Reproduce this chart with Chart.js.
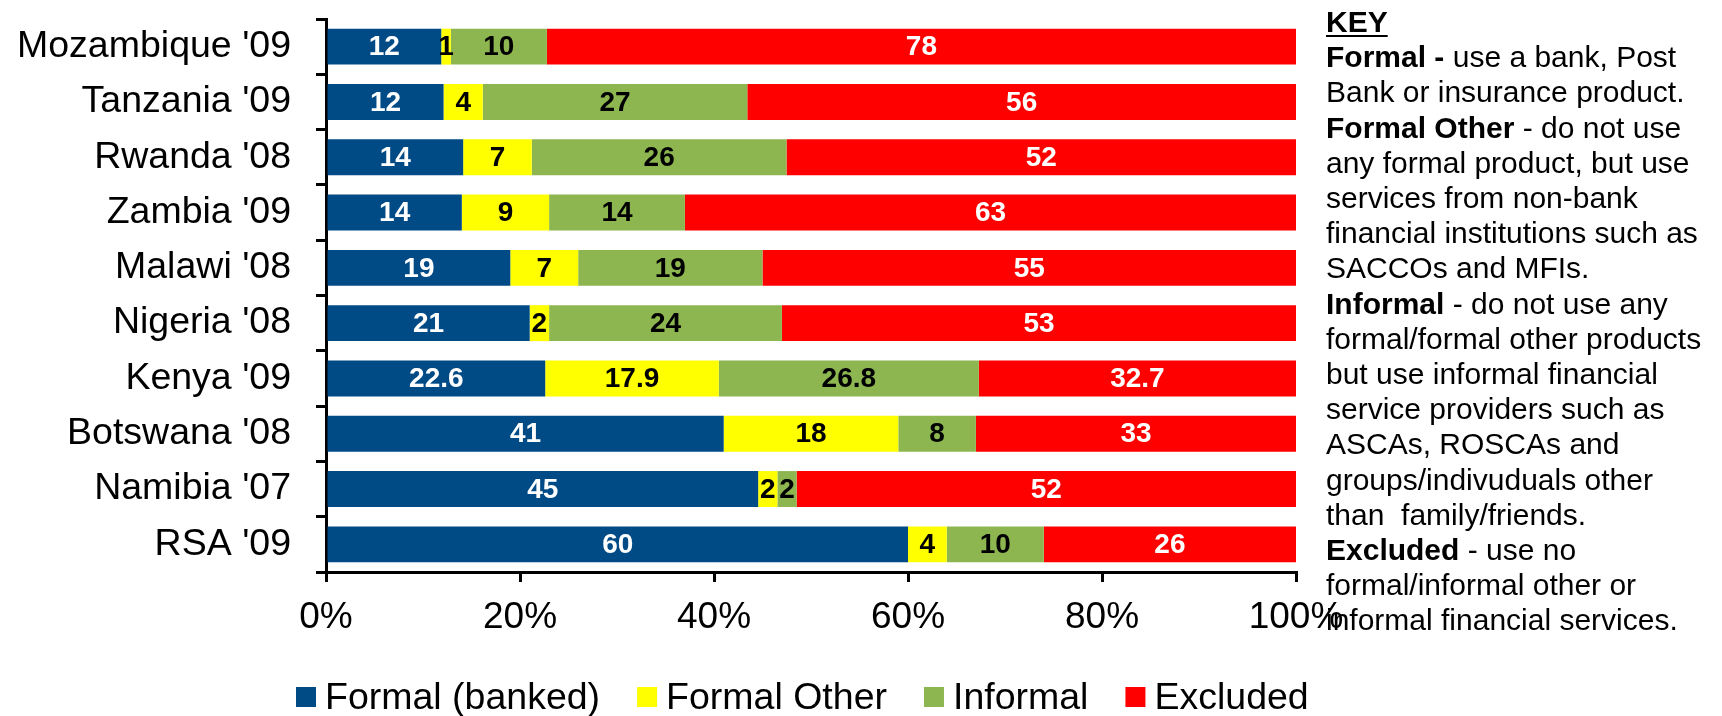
<!DOCTYPE html>
<html>
<head>
<meta charset="utf-8">
<title>Financial access strand</title>
<script src="https://cdn.jsdelivr.net/npm/chart.js@4/dist/chart.umd.min.js"></script>
<style>
  html, body { margin: 0; padding: 0; background: #fff; }
  #wrap { position: relative; width: 1722px; height: 716px; overflow: hidden; }
  #key {
    position: absolute; left: 1326px; top: 4px;
    font: 30px/35.2px "Liberation Sans", Arial, sans-serif;
    color: #000; white-space: pre;
  }
  #key b { font-weight: bold; }
  #key u { text-decoration: underline; text-decoration-thickness: 2px; text-underline-offset: 3px; }
</style>
</head>
<body>
<div id="wrap">
  <canvas id="chart" width="1722" height="716"></canvas>
  <div id="key"><b><u>KEY</u></b>
<b>Formal -</b> use a bank, Post
Bank or insurance product.
<b>Formal Other</b> - do not use
any formal product, but use
services from non-bank
financial institutions such as
SACCOs and MFIs.
<b>Informal</b> - do not use any
formal/formal other products
but use informal financial
service providers such as
ASCAs, ROSCAs and
groups/indivuduals other
than  family/friends.
<b>Excluded</b> - use no
formal/informal other or
informal financial services.</div>
</div>
<script>
// Survey markets, top to bottom
const countries = ["Mozambique '09", "Tanzania '09", "Rwanda '08", "Zambia '09", "Malawi '08",
                   "Nigeria '08", "Kenya '09", "Botswana '08", "Namibia '07", "RSA '09"];

// Share of adults in each access strand (%)
const formalBanked = [12, 12, 14, 14, 19, 21, 22.6, 41, 45, 60];
const formalOther  = [1, 4, 7, 9, 7, 2, 17.9, 18, 2, 4];
const informal     = [10, 27, 26, 14, 19, 24, 26.8, 8, 2, 10];
const excluded     = [78, 56, 52, 63, 55, 53, 32.7, 33, 52, 26];

const seriesNames  = ['Formal (banked)', 'Formal Other', 'Informal', 'Excluded'];
const xTickValues  = [0, 20, 40, 60, 80, 100];

const FONT = '"Liberation Sans", Arial, sans-serif';
const seriesColors = ['#004a86', '#ffff00', '#8db650', '#ff0000'];
const labelColors  = ['#ffffff', '#000000', '#000000', '#ffffff'];

const rawSeries = [formalBanked, formalOther, informal, excluded];
// each bar is a 100% stack: shares are scaled by the row total
const rowTotals = countries.map((_, i) => rawSeries.reduce((s, arr) => s + arr[i], 0));

const datasets = rawSeries.map((arr, k) => ({
  label: seriesNames[k],
  data: arr.map((v, i) => v / rowTotals[i] * 100),
  valueText: arr.map(v => String(v)),
  textColor: labelColors[k],
  backgroundColor: seriesColors[k],
  borderWidth: 0,
  barPercentage: 0.65,
  categoryPercentage: 1.0
}));

// numbers printed in the middle of each segment
const segmentValues = {
  id: 'segmentValues',
  afterDatasetsDraw(chart) {
    const ctx = chart.ctx;
    ctx.save();
    ctx.font = 'bold 28px ' + FONT;
    ctx.textAlign = 'center';
    ctx.textBaseline = 'middle';
    chart.data.datasets.forEach((ds, di) => {
      const meta = chart.getDatasetMeta(di);
      meta.data.forEach((bar, i) => {
        const p = bar.getProps(['x', 'y', 'base'], true);
        ctx.fillStyle = ds.textColor;
        ctx.fillText(ds.valueText[i], (p.x + p.base) / 2, p.y + 1);
      });
    });
    ctx.restore();
  }
};

// series key row beneath the axis
const seriesKey = {
  id: 'seriesKey',
  afterDraw(chart) {
    const ctx = chart.ctx;
    const area = chart.chartArea;
    const boxTop = area.bottom + 115;
    const baseline = area.bottom + 137;
    ctx.save();
    ctx.font = '37.5px ' + FONT;
    ctx.textBaseline = 'alphabetic';
    ctx.textAlign = 'left';
    let x = area.left - 30;
    chart.data.datasets.forEach(ds => {
      ctx.fillStyle = ds.backgroundColor;
      ctx.fillRect(x, boxTop, 20, 20);
      x += 29;
      ctx.fillStyle = '#000';
      ctx.fillText(ds.label, x, baseline);
      x += ctx.measureText(ds.label).width + 37;
    });
    ctx.restore();
  }
};

new Chart(document.getElementById('chart'), {
  type: 'bar',
  data: { labels: countries, datasets },
  options: {
    indexAxis: 'y',
    responsive: false,
    animation: false,
    devicePixelRatio: 1,
    layout: { padding: { top: 19, right: 426, bottom: 84, left: 0 } },
    plugins: {
      legend: { display: false },
      tooltip: { enabled: false },
      title: { display: false }
    },
    scales: {
      x: {
        stacked: true,
        min: 0,
        max: 100,
        afterFit(scale) { scale.height = 60; },
        afterBuildTicks(scale) { scale.ticks = xTickValues.map(v => ({ value: v })); },
        border: { display: true, color: '#000', width: 3 },
        grid: { drawOnChartArea: false, drawTicks: true, tickLength: 10, color: '#000', lineWidth: 3 },
        ticks: {
          padding: 14,
          color: '#000',
          font: { family: FONT, size: 37 },
          callback: v => v + '%'
        }
      },
      y: {
        stacked: true,
        afterFit(scale) {
          scale.width = 326;
          scale.paddingTop = 0;
          scale.paddingBottom = 0;
        },
        border: { display: true, color: '#000', width: 3 },
        grid: { drawOnChartArea: false, drawTicks: true, tickLength: 10, color: '#000', lineWidth: 3, offset: true },
        ticks: {
          padding: 25,
          color: '#000',
          font: { family: FONT, size: 37.5 }
        }
      }
    }
  },
  plugins: [segmentValues, seriesKey]
});
</script>
</body>
</html>
